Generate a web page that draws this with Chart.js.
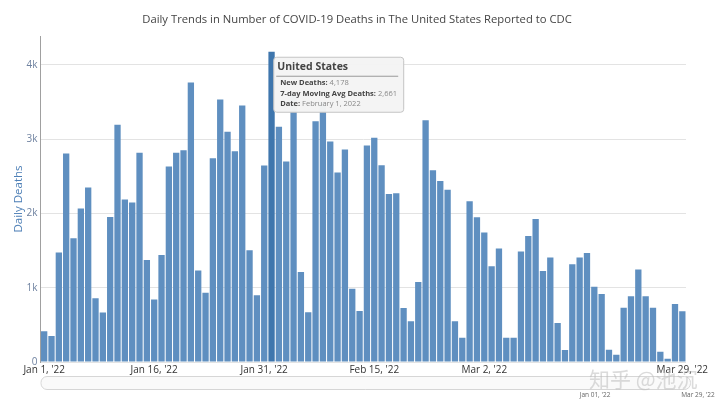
<!DOCTYPE html>
<html>
<head>
<meta charset="utf-8">
<script src="https://cdn.jsdelivr.net/npm/chart.js@4"></script>
<style>
  html, body { margin: 0; padding: 0; background: #fff; }
  #wrap { width: 720px; height: 407px; position: relative; }
</style>
</head>
<body>
<div id="wrap"><canvas id="deaths-chart"></canvas></div>
<script>
// Daily COVID-19 deaths, US, Jan 1 – Mar 29 2022

const startDate = new Date(2022, 0, 1);
const dayCount  = 88;

const janDeaths = [413, 350, 1473, 2808, 1667, 2066, 2350, 858, 665, 1954,
                   3194, 2188, 2147, 2817, 1375, 840, 1442, 2633, 2817, 2853,
                   3765, 1231, 934, 2745, 3535, 3100, 2839, 3455, 1505, 898, 2646];
const febDeaths = [4178, 3167, 2700, 3600, 1213, 669, 3243, 3500, 2969, 2552,
                   2862, 988, 687, 2916, 3019, 2650, 2264, 2273, 728, 548,
                   1078, 3257, 2583, 2439, 2318, 548, 328, 2165];
const marDeaths = [1950, 1743, 1289, 1527, 328, 328, 1487, 1698, 1927, 1226,
                   1406, 526, 162, 1316, 1406, 1469, 1015, 916, 166, 99,
                   732, 885, 1244, 885, 732, 139, 45, 782, 683];

const dailyDeaths = [...janDeaths, ...febDeaths, ...marDeaths];

// x tick labels shown on the axis (index -> text)
const xTickIndex  = [0, 15, 30, 45, 60, 87];
const xTickText   = ["Jan 1, '22", "Jan 16, '22", "Jan 31, '22", "Feb 15, '22", "Mar 2, '22", "Mar 29, '22"];

const yTickValues = [0, 1000, 2000, 3000, 4000];
const yTickText   = ["0", "1k", "2k", "3k", "4k"];

const chartTitle  = "Daily Trends in Number of COVID-19 Deaths in The United States Reported to CDC";

// hovered bar shown in the reference
const hoverIndex   = 31;
const hoverTitle   = "United States";
const hoverRows    = [["New Deaths:", "4,178"], ["7-day Moving Avg Deaths:", "2,661"], ["Date:", "February 1, 2022"]];

const rangeLabels  = ["Jan 01, '22", "Mar 29, '22"];

const dates = [];
for (let i = 0; i < dayCount; i++) {
  const d = new Date(startDate);
  d.setDate(d.getDate() + i);
  dates.push(d.toISOString().slice(0, 10));
}

const BAR   = "#5f8fc0";
const HOVER = "#3f76ad";
const FONT  = "'Open Sans', 'Noto Sans', sans-serif";

// ---------------------------------------------------------------------------
// Title, tooltip box, range slider and watermark drawn on top of the chart
// ---------------------------------------------------------------------------

const overlayPlugin = {
  id: "overlay",
  afterDatasetsDraw(chart) {
    const ctx = chart.ctx;
    const el  = chart.getDatasetMeta(0).data[hoverIndex];
    const x0  = el.x + el.width / 2 - 1.5;
    const y0  = el.y + 5;
    const w   = 130, h = 55;

    ctx.save();
    ctx.fillStyle   = "rgba(244,244,244,0.97)";
    ctx.strokeStyle = "#c4c4c4";
    ctx.lineWidth   = 1;
    ctx.beginPath();
    ctx.roundRect(x0 + 0.5, y0 + 0.5, w, h, 3);
    ctx.fill();
    ctx.stroke();

    ctx.fillStyle    = "#444";
    ctx.textBaseline = "middle";
    ctx.font = "bold 10.5px " + FONT;
    ctx.fillText(hoverTitle, x0 + 4, y0 + 10);

    ctx.strokeStyle = "#9a9a9a";
    ctx.beginPath();
    ctx.moveTo(x0 + 3, y0 + 19.5);
    ctx.lineTo(x0 + w - 5, y0 + 19.5);
    ctx.stroke();

    hoverRows.forEach((row, i) => {
      const y = y0 + 26 + i * 10.8;
      ctx.font = "bold 7.5px " + FONT;
      ctx.fillStyle = "#444";
      ctx.fillText(row[0], x0 + 7, y);
      const lw = ctx.measureText(row[0]).width;
      ctx.font = "7.5px " + FONT;
      ctx.fillStyle = "#888";
      ctx.fillText(" " + row[1], x0 + 7 + lw, y);
    });
    ctx.restore();
  },
  afterDraw(chart) {
    const ctx = chart.ctx;
    const a   = chart.chartArea;
    ctx.save();

    // title
    ctx.font = "11.25px " + FONT;
    ctx.fillStyle = "#444";
    ctx.textAlign = "center";
    ctx.textBaseline = "middle";
    ctx.fillText(chartTitle, 357, 20);

    // range slider track
    ctx.strokeStyle = "#d6d6d6";
    ctx.fillStyle   = "#fafafa";
    ctx.lineWidth   = 1;
    ctx.beginPath();
    ctx.roundRect(a.left + 0.5, 376.5, a.right - a.left + 4, 13, 6);
    ctx.fill();
    ctx.stroke();

    ctx.font = "6.5px " + FONT;
    ctx.fillStyle = "#666";
    ctx.fillText(rangeLabels[0], 595, 395);
    ctx.fillText(rangeLabels[1], 698, 395);

    // watermark
    ctx.font = "21px 'Noto Sans CJK SC', sans-serif";
    ctx.fillStyle = "rgba(190,190,190,0.55)";
    ctx.textAlign = "left";
    ctx.fillText("知乎 @池沉", 589, 379);
    ctx.restore();
  },
};

new Chart(document.getElementById("deaths-chart"), {
  type: "bar",
  data: {
    labels: dates,
    datasets: [{
      label:           "New Deaths",
      data:            dailyDeaths,
      backgroundColor: dailyDeaths.map((v, i) => (i === hoverIndex ? HOVER : BAR)),
      barPercentage:      0.86,
      categoryPercentage: 1.0,
      borderWidth:     0,
    }],
  },
  options: {
    responsive:          true,
    maintainAspectRatio: false,
    animation:           false,
    layout: { padding: { left: 0, right: 34, top: 36, bottom: 0 } },
    plugins: {
      legend:  { display: false },
      tooltip: { enabled: false },
      title:   { display: false },
    },
    scales: {
      x: {
        grid:   { display: false, drawTicks: false },
        border: { display: false },
        ticks: {
          autoSkip:    false,
          maxRotation: 0,
          padding:     2,
          color:       "#333",
          font:        { family: FONT, size: 10 },
          callback:    (v, i) => {
            const k = xTickIndex.indexOf(i);
            return k >= 0 ? xTickText[k] : null;
          },
        },
        afterFit: axis => { axis.height = 45; },
      },
      y: {
        min: 0,
        max: 4390,
        afterBuildTicks: axis => { axis.ticks = yTickValues.map(v => ({ value: v })); },
        grid:   { color: "#e3e3e3", drawTicks: false },
        border: { display: true, color: "#a0a0a0", width: 1 },
        ticks: {
          padding:  3,
          color:    "#6f82a0",
          font:     { family: FONT, size: 10 },
          callback: v => yTickText[yTickValues.indexOf(v)],
        },
        title: {
          display: true,
          text:    "Daily Deaths",
          color:   "#4d7fb6",
          font:    { family: FONT, size: 11.5 },
          padding: { top: 12, bottom: 0 },
        },
        afterFit: axis => { axis.width = 40.5; },
      },
    },
  },
  plugins: [overlayPlugin],
});
</script>
</body>
</html>
